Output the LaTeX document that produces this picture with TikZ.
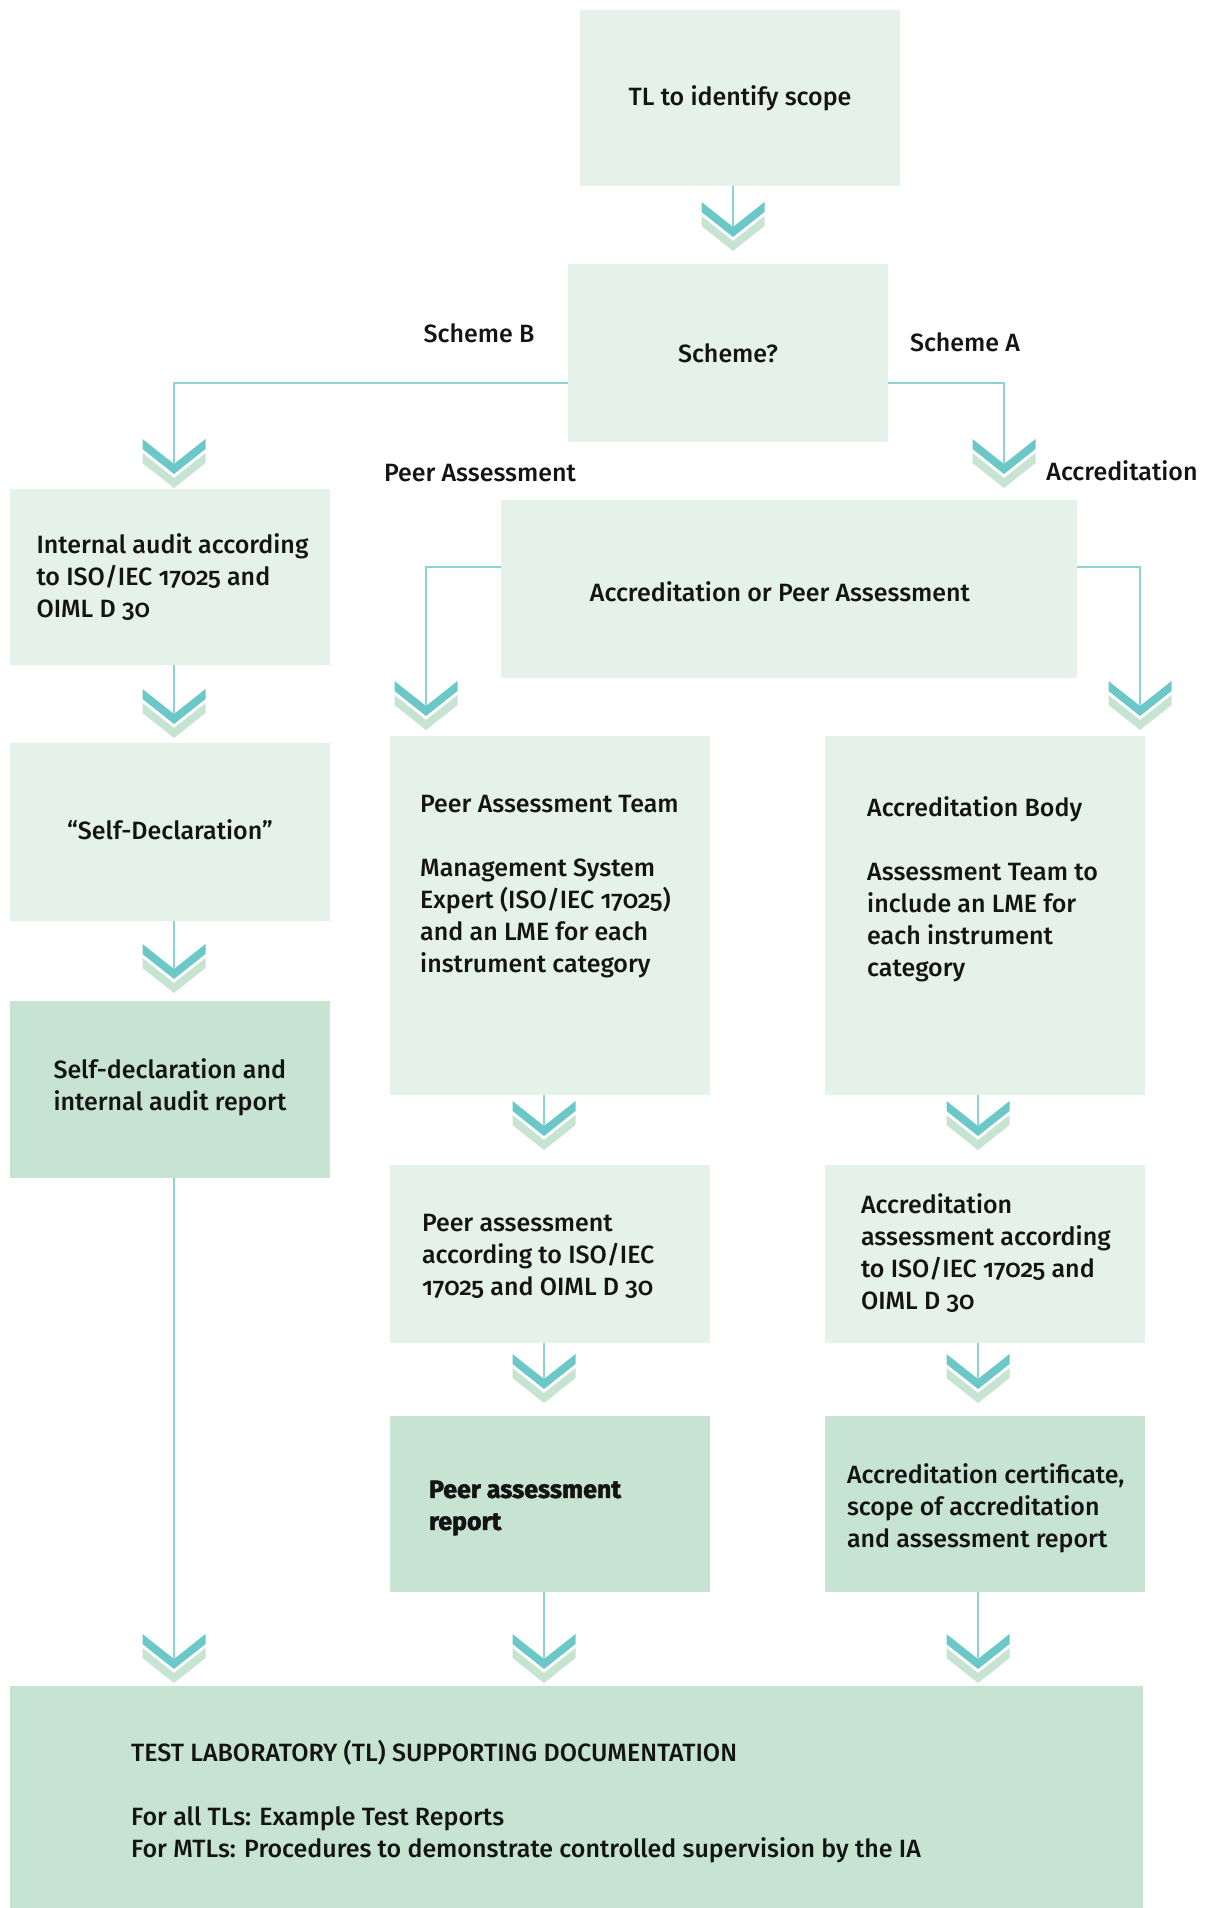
\documentclass[tikz,border=0pt]{standalone}
\usepackage{fontspec}
\setmainfont{Fira Sans Medium}[Numbers=OldStyle, BoldFont={Fira Sans Bold}, BoldFeatures={FakeBold=2}]
\definecolor{boxlight}{HTML}{E4F2EA}
\definecolor{boxdark}{HTML}{C6E4D1}
\definecolor{chevteal}{HTML}{6CC8C8}
\definecolor{chevlight}{HTML}{C6E4D1}
\definecolor{linec}{HTML}{8ED3D3}
\definecolor{txtc}{HTML}{141414}
\newcommand\chev[3]{%
  \fill[chevlight] (#2-31.5,#3+14) -- (#2,#3+39) -- (#2+31.5,#3+14) -- (#2+31.5,#3+24) -- (#2,#3+49) -- (#2-31.5,#3+24) -- cycle;
  \fill[chevteal] (#2-31.5,#3) -- (#2,#3+25) -- (#2+31.5,#3) -- (#2+31.5,#3+10) -- (#2,#3+35) -- (#2-31.5,#3+10) -- cycle;
  \coordinate (#1) at (#2,#3+25);}
\begin{document}
\begin{tikzpicture}[x=1pt,y=-1pt,
  box/.style={fill=boxlight, draw=none, minimum width=320pt, minimum height=176pt, inner sep=0pt, font=\fontsize{25}{32}\selectfont, text=txtc},
  darkbox/.style={box, fill=boxdark},
  txt/.style={inner sep=0pt, align=left, font=\fontsize{25}{32}\selectfont, text=txtc},
  conn/.style={draw=linec, line width=1.6pt}]
\useasboundingbox (0,0) rectangle (1208,1908);
% boxes
\node[box] (top) at (740,98) {TL to identify scope};
\node[box, minimum height=178pt] (scheme) at (728,353) {Scheme?};
\node[box] (ia) at (170,577) {};
\node[box, minimum width=576pt, minimum height=178pt] (acc) at (789,589) {};
\node[box, minimum height=178pt] (sd) at (170,832) {};
\node[darkbox, minimum height=177pt] (sdr) at (170,1089.5) {};
\node[box, minimum height=359pt] (pat) at (550,915.5) {};
\node[box, minimum height=359pt] (ab) at (985,915.5) {};
\node[box, minimum height=178pt] (pa) at (550,1254) {};
\node[box, minimum height=178pt] (aa) at (985,1254) {};
\node[darkbox] (par) at (550,1504) {};
\node[darkbox] (ac) at (985,1504) {};
\node[darkbox, minimum width=1133pt, minimum height=224pt] (doc) at (576.5,1798) {};
% texts
\node[txt] (accT) at ([xshift=-9pt,yshift=-2.5pt]acc.center) {Accreditation or Peer Assessment};
\node[txt] (sdT) at ([yshift=2.5pt]sd.center) {“Self-Declaration”};
\node[txt, anchor=west] (iaT) at ([xshift=26.5pt]ia.west) {Internal audit according\\to ISO/IEC 17025 and\\OIML D 30};
\node[txt, anchor=west] (sdrT) at ([xshift=43.5pt,yshift=2pt]sdr.west) {Self-declaration and\\internal audit report};
\node[txt, anchor=north west] (patT) at (420,795) {Peer Assessment Team\\[32pt]Management System\\Expert (ISO/IEC 17025)\\and an LME for each\\instrument category};
\node[txt, anchor=north west] (abT) at (867,796) {Accreditation Body\\[32pt]Assessment Team to\\include an LME for\\each instrument\\category};
\node[txt, anchor=west] (paT) at ([xshift=32pt,yshift=-2.5pt]pa.west) {Peer assessment\\according to ISO/IEC\\17025 and OIML D 30};
\node[txt, anchor=west] (aaT) at ([xshift=36pt,yshift=1pt]aa.west) {Accreditation\\assessment according\\to ISO/IEC 17025 and\\OIML D 30};
\node[txt, anchor=west, font=\fontsize{25}{32}\selectfont\bfseries] (parT) at ([xshift=39pt,yshift=-4pt]par.west) {Peer assessment\\report};
\node[txt, anchor=west] (acT) at ([xshift=22pt,yshift=-4pt]ac.west) {Accreditation certificate,\\scope of accreditation\\and assessment report};
\node[txt, anchor=north west] (docT) at (131,1739.5) {TEST LABORATORY (TL) SUPPORTING DOCUMENTATION\\[32pt]For all TLs: Example Test Reports\\For MTLs: Procedures to demonstrate controlled supervision by the IA};
% labels
\node[txt] (lB) at (479,333) {Scheme B};
\node[txt] (lA) at (965,342) {Scheme A};
\node[txt] (lPA) at (480,473) {Peer Assessment};
\node[txt] (lAcc) at (1122,471) {Accreditation};
% chevrons
\chev{c1}{733}{202}
\chev{c2}{174}{439}
\chev{c3}{1004}{439}
\chev{c4}{426}{681}
\chev{c5}{1140}{681}
\chev{c6}{174}{689}
\chev{c7}{174}{944}
\chev{c8}{544}{1101}
\chev{c9}{978}{1101}
\chev{c10}{544}{1354}
\chev{c11}{978}{1354}
\chev{c12}{174}{1634}
\chev{c13}{544}{1634}
\chev{c14}{978}{1634}
% connectors
\draw[conn] (top.south -| c1) -- (c1);
\draw[conn] ([yshift=-30pt]scheme.west) -| (c2);
\draw[conn] ([yshift=-30pt]scheme.east) -| (c3);
\draw[conn] ([yshift=22pt]acc.west) -| (c4);
\draw[conn] ([yshift=22pt]acc.east) -| (c5);
\draw[conn] (ia.south -| c6) -- (c6);
\draw[conn] (sd.south -| c7) -- (c7);
\draw[conn] (pat.south -| c8) -- (c8);
\draw[conn] (ab.south -| c9) -- (c9);
\draw[conn] (pa.south -| c10) -- (c10);
\draw[conn] (aa.south -| c11) -- (c11);
\draw[conn] (sdr.south -| c12) -- (c12);
\draw[conn] (par.south -| c13) -- (c13);
\draw[conn] (ac.south -| c14) -- (c14);
\end{tikzpicture}
\end{document}
